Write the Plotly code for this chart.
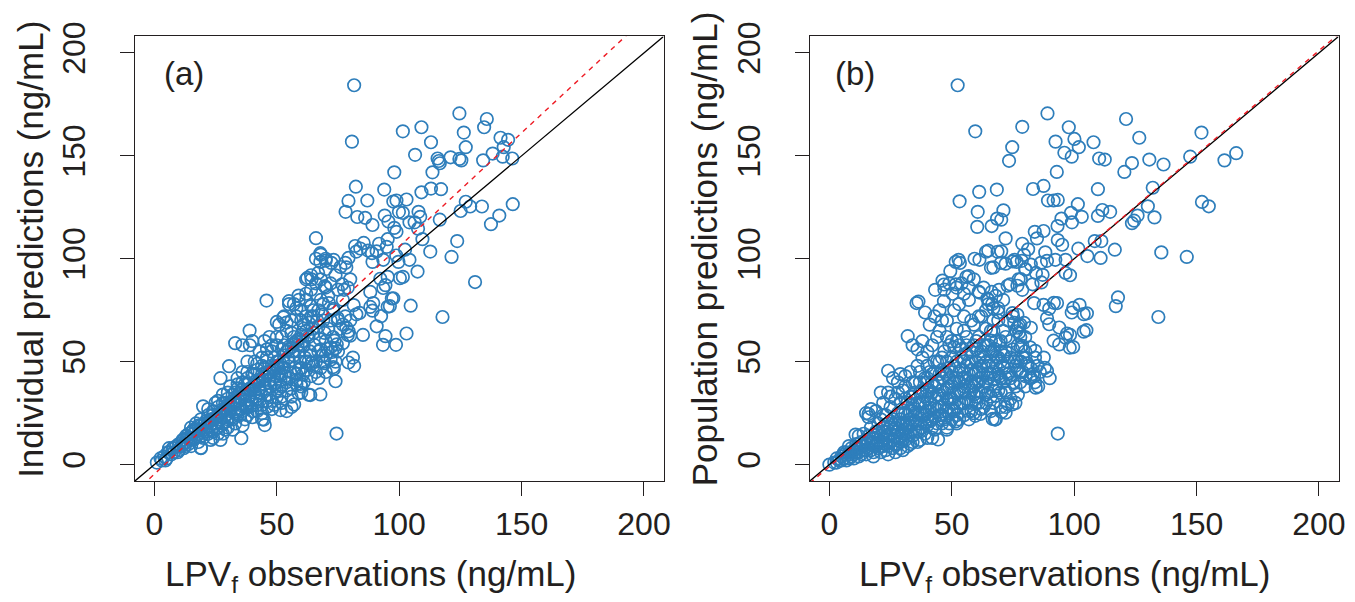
import plotly.graph_objects as go

# ---------------- data ----------------
# Panel (a): x = LPVf observations, y = individual predictions
ipred_sparse = [
    (81.6,184.3),(80.7,156.9),(124.6,170.6),(135.8,167.9),(101.5,161.9),(109.1,163.9),(126.4,161.3),
    (113.0,156.6),(134.7,163.9),(141.4,158.8),(144.5,157.8),(142.7,154.2),(106.5,150.5),(127.2,154.2),
    (115.7,148.7),(116.6,146.4),(116.2,147.5),(121.0,149.3),(125.4,147.8),(124.6,148.5),(134.3,147.8),
    (138.2,151.1),(142.3,149.6),(146.2,148.7),(98.0,142.0),(113.6,142.0),(82.3,135.0),(93.9,133.6),
    (109.1,132.3),(113.0,134.1),(117.1,133.8),(79.3,128.1),(87.0,128.3),(98.9,128.3),(103.0,128.8),
    (97.6,127.8),(78.1,122.8),(82.9,120.3),(86.1,119.9),(89.1,116.4),(94.1,121.0),(95.6,118.1),
    (98.0,115.0),(98.9,113.1),(99.9,122.8),(101.5,122.3),(104.2,117.7),(106.3,117.7),(107.9,122.8),
    (108.6,120.4),(107.7,114.6),(116.6,119.0),(109.5,109.5),(125.1,123.2),(127.2,127.7),(129.0,125.4),
    (133.8,125.4),(146.4,126.5),(140.9,121.0),(137.5,116.8),(123.7,108.6),(112.7,103.5),(121.4,100.9),
    (131.0,88.7),(117.7,71.7),(107.5,93.8),(104.7,77.2),(103.0,63.7),(98.7,58.2),(93.4,58.2),(94.4,62.4),
    (101.5,91.2),(102.4,104.4),(104.2,99.5),(99.7,98.5),(98.8,101.6),(97.6,80.8),(96.2,77.0),(92.6,72.1),
    (90.8,67.2),(88.2,76.6),(89.1,74.8),(89.4,78.5),(88.2,83.9),(93.5,85.8),(94.4,87.2),(92.3,90.3),
    (95.3,91.2),(93.5,99.5),(89.1,98.5),(87.3,104.0),(90.8,103.6),(95.3,109.5),(94.9,105.8),(91.8,107.3),
    (85.5,107.7),(82.0,106.2),(82.5,103.5),(79.3,100.4),(78.4,95.8),(84.1,105.0),(88.9,102.7),
    (85.2,63.0),(81.1,52.0),(81.6,48.0),(79.3,49.6),(82.5,73.0),(83.8,73.7),(78.4,66.6),(79.3,64.8),
    (74.0,40.5),(74.4,15.1),(73.3,46.5),(67.8,34.1),(63.7,33.8),(57.1,29.2),(51.5,26.5),(44.7,21.9),
    (45.1,19.2),(35.5,12.8),(45.8,79.7),(38.9,65.1),(66.0,110.0),(67.8,102.7),(70.0,99.1),(73.2,99.5),
    (72.3,98.0),(67.8,98.5),(64.2,90.0),(62.5,90.7),(66.9,93.1),(69.6,86.7),(58.9,82.1),(55.0,79.4),
    (52.7,71.5),(50.0,69.3),(71.3,78.5),(73.1,75.7),(76.7,87.6),(77.5,84.9),(74.9,71.2),(73.6,60.2),
    (74.5,58.4),(74.0,56.6),(70.8,56.2),(68.7,52.9),(69.6,49.3),(73.1,47.4),(64.2,49.3),(60.7,43.8),
    (58.9,34.7),(59.8,39.2),(51.8,43.8),(49.2,39.2),(42.9,36.5),(35.8,36.5),(30.5,47.8),(27.0,42.0),
    (19.9,28.3),(19.0,8.2),(81.4,77.5),(80.0,62.6),(72.6,54.7),(95.3,76.7),(97.0,80.7),(100.3,90.6),
]
ipred_dense = [
    (1,1),(3,2),(4,4),(5,3),(6,6),(7,5),(8,8),(8,6),(9,9),(10,7),(10,10),(6,8),
    (11,9),(12,12),(12,10),(13,14),(13,11),(14,15),(14,10),(15,13),(15,18),(16,15),(16,12),(17,17),
    (17,20),(18,15),(18,11),(19,19),(19,22),(20,17),(20,13),(12,8),(15,9),(19,8),
    (21,21),(21,18),(22,24),(22,15),(23,22),(23,19),(24,26),(24,16),(25,23),(25,20),(26,28),(26,18),
    (27,25),(27,22),(28,30),(28,20),(29,27),(29,24),(30,32),(30,22),(25,30),(28,34),(26,15),(29,17),
    (23,12),(27,12),(30,18),
    (31,29),(31,26),(32,34),(32,22),(33,31),(33,27),(34,37),(34,24),(35,33),(35,29),(36,40),(36,26),
    (37,35),(37,31),(38,42),(38,28),(39,37),(39,33),(40,44),(40,30),(31,38),(34,42),(36,45),(38,50),
    (33,20),(37,22),(40,26),(36,58),(33,59),
    (41,39),(41,35),(42,46),(42,32),(43,41),(43,37),(44,48),(44,29),(45,43),(45,39),(46,52),(46,34),
    (47,45),(47,41),(48,55),(48,31),(49,47),(49,43),(50,58),(50,36),(41,50),(43,55),(45,60),(47,62),
    (42,26),(46,28),(49,29),(50,48),(44,22),(40,60),(39,58),
    (51,50),(51,44),(52,62),(52,38),(53,53),(53,47),(54,65),(54,40),(55,56),(55,50),(56,70),(56,33),
    (57,59),(57,53),(58,72),(58,44),(59,61),(59,55),(60,75),(60,47),(51,68),(53,72),(55,78),(57,78),
    (59,80),(52,30),(56,28),(60,35),(54,26),(58,41),(60,63),
    (61,66),(61,58),(62,80),(62,50),(63,69),(63,62),(64,85),(64,53),(65,72),(65,64),(66,88),(66,45),
    (67,75),(67,67),(68,90),(68,56),(69,78),(69,70),(70,95),(70,60),(62,90),(64,92),(66,100),(68,102),
    (70,100),(61,40),(63,34),(65,48),(67,42),(69,50),(70,53),(62,72),(64,77),
    (71,82),(71,66),(72,88),(72,57),(73,75),(73,62),(74,92),(74,50),(75,85),(75,70),(76,96),(76,66),
    (77,80),(77,59),(78,98),(78,72),(79,86),(79,63),(80,90),(80,70),
]
ipred_core = [
    (2.5,3),(4.5,2),(5.5,6),(7.5,8),(9.5,6),(11.5,12),(12.5,9),(13.5,13),(14.5,12),(15.5,16),
    (16.5,13),(17.5,14),(18.5,17),(19.5,14),(20.5,20),(21.5,16),(22.5,21),(23.5,17),(24.5,22),
    (25.5,18),(26.5,25),(27.5,19),(28.5,26),(29.5,21),(30.5,28),(31.5,23),(32.5,30),(33.5,25),
    (34.5,31),(35.5,27),(36.5,34),(37.5,29),(38.5,36),(39.5,31),(40.5,38),(41.5,33),(42.5,40),
    (43.5,35),(44.5,41),(45.5,37),(46.5,44),(47.5,38),(48.5,46),(49.5,40),(50.5,47),(51.5,41),
    (52.5,50),(53.5,43),(54.5,52),(55.5,45),(56.5,55),(57.5,47),(58.5,58),(59.5,50),(60.5,60),
    (61.5,52),(62.5,63),(63.5,55),(64.5,66),(65.5,58),(66.5,70),(67.5,61),(68.5,73),(69.5,64),
    (22,27),(26,31),(30,35),(34,39),(38,45),(42,49),(46,56),(50,62),(54,69),(58,76),(62,83),(66,83),
    (70,86),(44,52),(48,58),(52,56),(56,64),(60,70),(64,72),(68,80),
    (24,13),(28,15),(32,17),(36,19),(40,23),(44,25),(48,27),(52,33),(56,37),(60,38),(64,43),(68,47),
    (72,51),(38,24),(42,29),(46,31),(50,33),(54,36),(58,39),(62,46),(66,50),(70,45),(75,55),(77,68),
    (72,70),
    (14,13),(16,17),(18,19),(20,19),(22,20),(24,24),(26,23),(28,27),(30,29),(32,31),(34,33),(36,35),
    (38,39),(40,37),(42,41),(44,44),(46,45),(48,48),(50,50),(52,47),(54,55),(56,57),(58,60),(60,58),
    (62,65),(29,30),(33,35),(37,39),(41,44),(45,47),(49,52),(53,58),(57,62),(61,68),(65,75),(35,24),
    (39,28),(43,31),(47,34),(51,37),(55,42),(59,46),(63,50),(67,55),
]

# Panel (b): x = LPVf observations, y = population predictions
pred_sparse = [
    (52.4,184.3),(59.6,161.9),(89.1,170.6),(78.8,164.1),(97.8,163.9),(100.1,158.2),(101.9,154.2),
    (92.4,156.9),(107.9,156.6),(121.2,167.9),(126.6,158.8),(152.0,161.3),(166.2,151.3),(161.4,147.8),
    (147.4,149.6),(136.5,145.8),(130.7,148.2),(123.6,146.5),(120.5,142.2),(110.2,148.7),(112.5,148.2),
    (96.0,151.5),(99.0,149.6),(74.7,154.2),(73.4,147.6),(92.9,142.2),(53.2,127.9),(61.2,132.5),
    (68.4,133.6),(83.2,133.9),(87.5,135.4),(109.7,133.8),(132.1,134.5),(152.2,127.6),(155.0,125.5),
    (130.1,125.5),(132.8,120.1),(125.9,121.0),(123.6,117.3),(124.5,118.5),(114.7,122.8),(111.5,123.7),
    (109.7,120.8),(101.5,126.5),(103.1,120.4),(98.7,122.3),(99.1,117.7),(94.8,119.5),(93.2,115.9),
    (91.6,128.3),(89.3,128.3),(93.3,128.6),(71.1,123.5),(70.2,119.0),(68.5,119.5),(66.3,115.9),
    (60.6,122.8),(60.4,115.5),(72.0,109.9),(78.8,107.3),(81.2,104.6),(83.9,113.1),(84.8,109.9),
    (87.5,113.5),(88.2,103.1),(93.3,109.1),(95.1,106.8),(96.5,99.5),(92.3,99.5),(101.7,104.9),
    (105.4,101.3),(108.4,108.6),(111.1,108.6),(110.8,100.4),(116.6,104.4),(135.6,103.1),(146.0,100.9),
    (117.0,77.0),(117.9,81.2),(134.4,71.7),(105.2,73.5),(105.0,65.3),(102.2,77.6),(99.6,76.1),
    (99.0,73.9),(98.3,92.0),(96.5,93.1),(99.6,57.1),(98.3,63.0),(96.5,61.7),(93.9,58.4),(91.6,60.2),
    (93.9,66.6),(93.0,78.5),(89.8,75.7),(87.5,77.6),(88.9,71.2),(89.8,68.2),(88.9,45.6),(85.3,38.0),
    (83.6,42.9),(82.3,42.1),(87.6,52.0),(84.1,55.3),(93.3,15.1),(78.8,84.9),(77.3,90.0),(80.0,94.9),
    (83.0,87.6),(84.4,93.1),(87.1,92.2),(86.6,88.5),(83.6,78.5),(77.3,67.5),(76.4,64.8),(78.8,57.7),
    (75.6,50.2),(74.7,29.2),(72.0,25.2),(67.6,21.9),(59.6,23.7),(51.6,21.0),(44.4,12.2),(61.7,24.6),
    (35.6,78.5),(36.4,79.2),(39.1,73.9),(43.2,84.9),(46.2,89.4),(46.8,87.5),(49.4,94.0),(52.8,99.5),
    (53.3,98.0),(56.9,91.6),(51.6,87.6),(50.3,83.0),(46.8,79.4),(32.0,62.4),(24.0,45.6),(16.0,24.6),
    (10.7,14.6),(64.9,104.0),(70.2,103.6),(67.0,95.8),(72.0,97.6),(75.6,99.5),(76.5,98.5),(61.3,99.5),
    (56.0,91.2),(61.3,83.6),(66.3,83.9),(69.3,84.9),(73.8,87.6),(51.6,98.5),(59.3,100.0),(78.6,99.0),
    (86.4,98.0),(88.9,99.0),(97.1,63.7),(103.9,64.6),(98.2,56.8),(103.9,73.1),(91.7,78.6),(84.3,37.4),
    (78.2,50.0),(76.2,51.6),(71.4,53.1),(67.4,56.3),(66.0,60.2),(69.4,58.6),(68.1,52.4),(71.4,46.8),
    (73.5,44.5),(69.4,42.9),(72.1,42.1),(67.4,41.4),(64.7,44.5),(68.1,33.5),(72.1,35.0),(78.2,57.1),
    (76.8,66.5),(79.5,68.9),(75.5,68.9),(74.8,73.6),(76.8,72.8),(82.3,66.5),(77.5,64.2),(80.9,49.2),
    (82.3,46.8),(80.2,42.9),(76.8,46.1),(64.5,80.7),(66.5,78.0),(69.0,76.0),(71.0,80.0),(72.8,86.9),
    (76.8,86.9),(78.2,90.1),(80.2,94.8),(82.3,97.2),(74.8,98.7),(70.1,98.0),(66.0,95.6),(79.5,101.9),
    (68.7,103.4),(64.0,103.4),(70.3,25.6),(72.9,29.4),(66.7,22.2),
]
pred_dense = [
    (0,0),(2,1),(3,3),(4,2),(5,4),(6,3),(7,6),(7,2),(8,5),(9,8),(9,4),(10,7),(10,3),(6,6),(8,9),
    (11,10),(11,6),(12,8),(12,14),(13,11),(13,5),(14,9),(14,15),(15,12),(15,7),(16,14),(16,23),(17,10),
    (17,18),(18,13),(18,6),(19,16),(19,26),(20,12),(20,20),(12,4),(16,8),(18,9),(20,8),(15,25),(17,27),
    (15,5),(18,4),(21,6),(24,5),(27,6),(30,7),
    (21,22),(21,14),(22,18),(22,30),(23,10),(23,24),(24,20),(24,35),(25,15),(25,28),(26,22),(26,12),
    (27,32),(27,18),(28,25),(28,40),(29,14),(29,30),(30,20),(30,36),(22,9),(24,12),(27,10),(30,12),
    (26,42),(29,44),(28,10),(21,35),(31,43),
    (31,25),(31,38),(32,18),(32,30),(33,45),(33,22),(34,33),(34,14),(35,40),(35,27),(36,20),(36,48),
    (37,35),(37,16),(38,30),(38,52),(39,24),(39,42),(40,19),(40,36),(34,58),(36,56),(38,60),
    (40,55),(31,12),(33,16),(35,21),(37,25),(39,15),(40,48),(33,10),(36,11),(40,13),
    (41,30),(41,45),(42,22),(42,58),(43,38),(43,17),(44,50),(44,27),(45,34),(45,65),(46,42),(46,20),
    (47,55),(47,29),(48,37),(48,70),(49,25),(49,47),(50,32),(50,60),(41,68),(43,72),(45,75),(47,85),
    (49,88),(42,13),(46,24),(48,18),(50,22),(44,62),(48,62),(50,52),(46,70),(48,17),
    (51,40),(51,57),(52,28),(52,66),(53,45),(53,22),(54,52),(54,35),(55,72),(55,30),(56,48),(56,62),
    (57,38),(57,80),(58,55),(58,26),(59,44),(59,68),(60,33),(60,50),(51,75),(53,78),(55,83),(57,86),
    (59,90),(52,86),(54,88),(56,42),(58,36),(60,40),(53,30),(55,24),(57,22),(59,25),(60,60),(52,20),
    (61,45),(61,62),(62,35),(62,72),(63,52),(63,28),(64,58),(64,40),(65,78),(65,48),(66,55),(66,33),
    (67,65),(67,45),(68,82),(68,38),(69,52),(69,70),(70,42),(70,60),(61,84),(63,86),(65,80),(67,76),
    (69,74),(62,27),(64,30),(66,26),(68,22),(70,28),(61,52),(63,44),(65,58),
    (71,48),(71,65),(72,55),(72,36),(73,70),(73,44),(74,52),(74,60),(75,40),(75,72),(76,48),(77,58),
    (77,34),(78,45),(78,68),(79,52),(80,38),(80,62),(81,48),(82,57),(83,44),(84,52),(85,48),(76,30),
    (74,32),(72,28),(78,40),(82,42),(80,55),(84,40),(86,45),(88,47),(90,42),
]
pred_core = [
    (3,1),(5,2),(6,5),(8,3),(9,6),(10,5),(11,8),(12,6),(13,9),(14,7),(15,10),(16,11),(17,7),(18,11),
    (19,9),(20,15),(21,11),(22,13),(23,16),(24,9),(25,11),(26,17),(27,14),(28,20),(29,11),(30,16),
    (31,19),(32,14),(33,26),(34,20),(35,16),(36,30),(37,20),(38,24),(39,33),(40,26),(41,21),(42,35),
    (43,28),(44,40),(45,24),(46,32),(47,45),(48,26),(49,38),(50,27),(51,48),(52,35),(53,58),(54,30),
    (55,42),(56,54),(57,31),(58,46),(59,34),(60,56),(61,36),(62,48),(63,38),(64,66),(65,42),(66,50),
    (67,36),(68,60),(69,44),(70,50),(71,40),(72,62),(73,50),(74,42),(75,56),(76,38),(77,50),(78,62),
    (79,45),(80,52),
    (22,24),(25,33),(28,35),(31,32),(34,40),(37,45),(40,42),(43,50),(46,52),(49,58),(52,60),(55,65),
    (58,70),(61,72),(64,75),(67,70),(25,18),(28,16),(31,17),(34,26),(37,30),(40,32),(43,23),(46,36),
    (49,32),(52,42),(55,36),(58,30),(61,30),(64,34),(67,30),(70,35),(42,44),(45,50),(48,44),(51,35),
    (54,46),(57,50),(60,45),(63,48),(66,65),
    (20,10),(22,16),(23,7),(24,14),(25,21),(26,8),(27,20),(28,13),(29,22),(29,8),(30,25),(31,15),
    (32,24),(32,9),(33,19),(33,33),(34,11),(34,29),(35,24),(35,35),(36,16),(36,25),(37,12),(37,40),
    (38,18),(38,36),(39,28),(39,20),(40,40),(40,22),(41,26),(41,36),(42,40),(42,18),(43,33),(43,45),
    (44,20),(44,34),(45,28),(45,44),(46,46),(46,28),(47,35),(47,22),(48,50),(48,32),(49,42),(49,20),
    (50,45),(50,38),(51,30),(51,26),(52,50),(52,24),(53,36),(53,40),(54,42),(54,56),(55,38),(55,50),
    (56,32),(56,58),(57,44),(57,26),(58,50),(58,40),(59,38),(59,58),(60,30),(61,40),(62,55),(62,42),
    (63,58),(64,50),(65,35),(66,44),(67,55),(68,48),(69,36),(70,55),
]

# identity line and fitted (red dashed) regression lines: slope, intercept
line_x = [-8, 208]
fit_a = (1.105, -4.6)
fit_b = (1.01, -0.9)
tick_vals = [0, 50, 100, 150, 200]

# ---------------- figure ----------------
W, H = 1355, 602
BLUE = "#2E7EBB"
FONT = "Liberation Sans, Arial, Helvetica, sans-serif"
INK = "#231F20"

fig = go.Figure()

def add_panel(points, fit, xa, ya):
    xs = [p[0] for p in points]
    ys = [p[1] for p in points]
    fig.add_trace(go.Scatter(
        x=xs, y=ys, mode="markers", xaxis=xa, yaxis=ya, showlegend=False,
        marker=dict(symbol="circle-open", size=12.5, color=BLUE, line=dict(width=1.7, color=BLUE)),
        hoverinfo="skip"))
    fig.add_trace(go.Scatter(
        x=line_x, y=line_x, mode="lines", xaxis=xa, yaxis=ya, showlegend=False,
        line=dict(color="black", width=1.3), hoverinfo="skip"))
    fig.add_trace(go.Scatter(
        x=line_x, y=[fit[0] * v + fit[1] for v in line_x], mode="lines", xaxis=xa, yaxis=ya,
        showlegend=False, line=dict(color="#EE1C25", width=1.4, dash="5px,5px"), hoverinfo="skip"))

add_panel(ipred_sparse + ipred_dense + ipred_core, fit_a, "x", "y")
add_panel(pred_sparse + pred_dense + pred_core, fit_b, "x2", "y2")

def px_x(p):
    return p / W

def px_y(p):
    return 1 - p / H

axis_common = dict(
    range=[-8, 208], tickvals=tick_vals, ticks="outside", ticklen=14, tickwidth=1.2,
    tickcolor=INK, showline=True, mirror=True, linecolor=INK, linewidth=1.3,
    showgrid=False, zeroline=False, tickfont=dict(family=FONT, size=32, color=INK),
)

ydom = [px_y(478), px_y(22)]
fig.update_layout(
    width=W, height=H, paper_bgcolor="white", plot_bgcolor="white",
    margin=dict(l=0, r=0, t=0, b=0),
    xaxis=dict(domain=[px_x(135.5), px_x(667)], anchor="y", **axis_common),
    yaxis=dict(domain=ydom, anchor="x", tickangle=-90, ticklabelstandoff=22, **axis_common),
    xaxis2=dict(domain=[px_x(814), px_x(1345.5)], anchor="y2", **axis_common),
    yaxis2=dict(domain=ydom, anchor="x2", tickangle=-90, ticklabelstandoff=22, **axis_common),
)

title_font = dict(family=FONT, size=35, color=INK)
label_font = dict(family=FONT, size=33, color=INK)
annotations = [
    dict(text="LPV<sub>f</sub> observations (ng/mL)", x=px_x(372), y=px_y(575), font=title_font),
    dict(text="LPV<sub>f</sub> observations (ng/mL)", x=px_x(1070), y=px_y(575), font=title_font),
    dict(text="Individual predictions (ng/mL)", x=px_x(30), y=px_y(240), textangle=-90, font=title_font),
    dict(text="Population predictions (ng/mL)", x=px_x(708), y=px_y(240), textangle=-90, font=title_font),
    dict(text="(a)", x=px_x(185), y=px_y(60), font=label_font),
    dict(text="(b)", x=px_x(859), y=px_y(60), font=label_font),
]
for a in annotations:
    fig.add_annotation(xref="paper", yref="paper", showarrow=False,
                       xanchor="center", yanchor="middle", **a)

fig.write_html("out.html", config={"displayModeBar": False},
               post_script="document.body.style.margin='0px';")
